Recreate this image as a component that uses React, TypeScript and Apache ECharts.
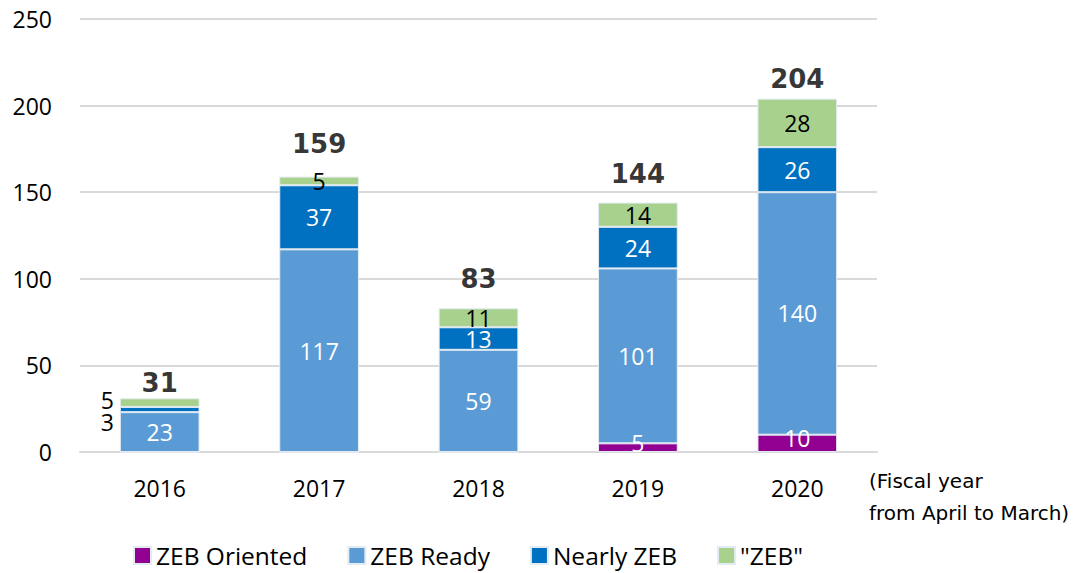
import React, { useEffect, useRef } from "react";
import * as echarts from "echarts";

const years = ["2016", "2017", "2018", "2019", "2020"];
const zebOriented = [0, 0, 0, 5, 10];
const zebReady = [23, 117, 59, 101, 140];
const nearlyZeb = [3, 37, 13, 24, 26];
const zeb = [5, 5, 11, 14, 28];
const yTicks = [0, 50, 100, 150, 200, 250];

const FONT = "'Open Sans', 'Noto Sans', sans-serif";
const BOLD_FONT = "'DejaVu Sans', 'Noto Sans', sans-serif";

export default function App() {
  const ref = useRef<HTMLDivElement>(null);
  useEffect(() => {
    if (!ref.current) return;
    const chart = echarts.init(ref.current, null, { renderer: "svg" });
    const totals = years.map((_, i) => zebOriented[i] + zebReady[i] + nearlyZeb[i] + zeb[i]);
    const totalLift = [2, 20, 16, 16, 7];
    const border = { borderColor: "#e3ebf3", borderWidth: 1 };
    const labelBase = { show: true, fontFamily: FONT, fontSize: 23 };
    chart.setOption({
      animation: false,
      textStyle: { fontFamily: FONT },
      grid: { left: 80, right: 209, top: 19, bottom: 121 },
      legend: {
        bottom: 0,
        left: 128,
        itemWidth: 17,
        itemHeight: 17,
        itemGap: 40,
        icon: "rect",
        textStyle: { fontSize: 24.5, fontFamily: FONT, color: "#000", padding: [0, 0, 0, 0] },
        data: ["ZEB Oriented", "ZEB Ready", "Nearly ZEB", '"ZEB"'],
      },
      xAxis: {
        type: "category",
        data: years,
        axisLine: { lineStyle: { color: "#d9d9d9", width: 2 } },
        axisTick: { show: false },
        axisLabel: { fontSize: 23, color: "#000", fontFamily: FONT, margin: 24 },
      },
      yAxis: {
        type: "value",
        min: yTicks[0],
        max: yTicks[yTicks.length - 1],
        interval: 50,
        axisLine: { show: false },
        axisTick: { show: false },
        splitLine: { lineStyle: { color: "#d9d9d9", width: 2 } },
        axisLabel: { fontSize: 23, color: "#000", fontFamily: FONT, margin: 28 },
      },
      graphic: [
        {
          type: "text",
          left: 869,
          top: 465,
          style: {
            text: "(Fiscal year\nfrom April to March)",
            fontSize: 20,
            lineHeight: 32,
            fontFamily: BOLD_FONT,
            fill: "#000",
          },
        },
      ],
      series: [
        {
          name: "ZEB Oriented",
          type: "bar",
          stack: "a",
          barWidth: "50%",
          itemStyle: { color: "#920091", ...border },
          label: {
            ...labelBase,
            color: "#fff",
            position: "inside",
            offset: [0, -5],
            formatter: (p: any) => (p.value ? String(p.value) : ""),
          },
          data: zebOriented,
        },
        {
          name: "ZEB Ready",
          type: "bar",
          stack: "a",
          itemStyle: { color: "#5b9bd5", ...border },
          label: { ...labelBase, color: "#fff", position: "inside" },
          data: zebReady,
        },
        {
          name: "Nearly ZEB",
          type: "bar",
          stack: "a",
          itemStyle: { color: "#0070c0", ...border },
          label: { ...labelBase, color: "#fff", position: "inside" },
          data: nearlyZeb.map((v, i) =>
            i === 0
              ? { value: v, label: { position: "left", color: "#000", distance: 6, offset: [0, 12] } }
              : v
          ),
        },
        {
          name: '"ZEB"',
          type: "bar",
          stack: "a",
          itemStyle: { color: "#a9d18e", ...border },
          label: { ...labelBase, color: "#000", position: "inside" },
          data: zeb.map((v, i) =>
            i === 0
              ? { value: v, label: { position: "left", color: "#000", distance: 6, offset: [0, -3] } }
              : v
          ),
        },
        {
          name: "total",
          type: "scatter",
          symbolSize: 0,
          silent: true,
          label: {
            show: true,
            position: "top",
            fontSize: 26,
            fontWeight: "bold",
            color: "#000",
            fontFamily: BOLD_FONT,
          },
          data: totals.map((v, i) => ({ value: v, label: { distance: totalLift[i] } })),
        },
      ],
    });
    return () => chart.dispose();
  }, []);
  return <div ref={ref} style={{ width: 1086, height: 573, marginLeft: -8, marginTop: -8 }} />;
}
